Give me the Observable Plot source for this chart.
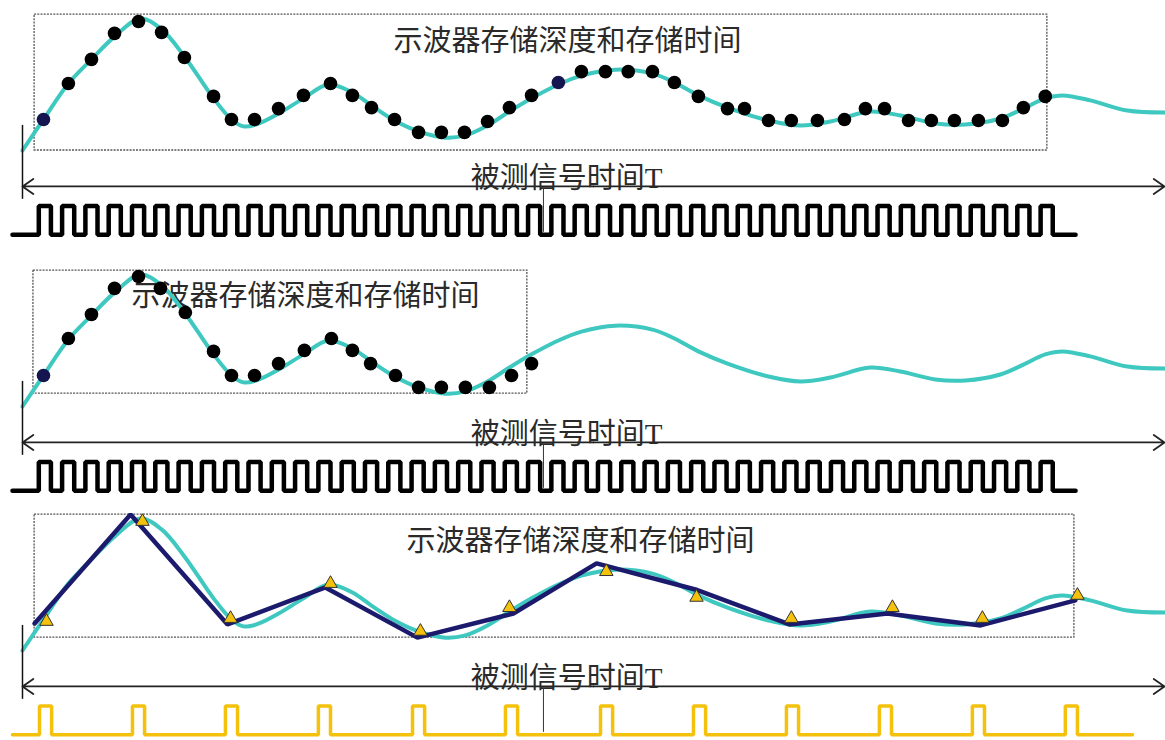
<!DOCTYPE html>
<html>
<head>
<meta charset="utf-8">
<script src="https://cdn.jsdelivr.net/npm/d3@7"></script>
<script src="https://cdn.jsdelivr.net/npm/@observablehq/plot@0.6"></script>
<style>
  html, body { margin: 0; padding: 0; background: #fff; }
  #chart { width: 1165px; }
  #chart svg { display: block; }
</style>
</head>
<body>
<div id="chart"></div>
<script>
// Time is measured in sample-clock periods (t), amplitude in volts-like units (v).

// Measured signal, [t, v]
const waveform = [
  [0, 0], [0.90, 0.94], [1.97, 2.03], [2.96, 2.76], [3.95, 3.45], [5.06, 4.0],
  [5.97, 3.67], [6.95, 2.85], [8.20, 1.58], [8.97, 0.94], [9.48, 0.73], [10.04, 0.79],
  [10.99, 1.12], [12.06, 1.58], [13.13, 2.0], [14.16, 1.76], [14.98, 1.36], [15.97, 0.91],
  [17.0, 0.58], [18.15, 0.39], [18.97, 0.45], [19.96, 0.76], [20.9, 1.18], [21.85, 1.58],
  [23.0, 2.0], [23.99, 2.27], [25.45, 2.45], [27.04, 2.33], [27.98, 2.06], [29.01, 1.67],
  [30.26, 1.30], [32.02, 0.91], [33.39, 0.76], [34.68, 0.88], [36.39, 1.18], [37.68, 1.06],
  [39.18, 0.82], [40.47, 0.79], [41.97, 0.97], [42.96, 1.27], [43.9, 1.58], [44.64, 1.67],
  [45.84, 1.52], [47.42, 1.21], [49.06, 1.15]
];

// Stored samples: full memory depth (row 1)
const samplesDeep = [
  [0.90, 0.94], [1.97, 2.03], [2.96, 2.76], [3.95, 3.55], [4.98, 3.91], [5.97, 3.58],
  [6.95, 2.82], [8.20, 1.64], [8.97, 0.94], [9.96, 0.94], [10.99, 1.27], [12.06, 1.67],
  [13.22, 2.03], [14.16, 1.67], [14.98, 1.30], [15.97, 0.94], [17.0, 0.55], [17.98, 0.55],
  [18.97, 0.55], [19.96, 0.88], [20.90, 1.30], [21.85, 1.67], [23.0, 2.06], [23.99, 2.39],
  [25.02, 2.39], [26.0, 2.39], [27.04, 2.39], [27.98, 2.06], [29.01, 1.64], [30.26, 1.27],
  [30.99, 1.27], [32.02, 0.91], [33.0, 0.91], [34.12, 0.91], [35.28, 0.94], [36.18, 1.27],
  [37.0, 1.27], [38.03, 0.91], [39.01, 0.91], [40.0, 0.91], [41.03, 0.91], [42.06, 0.91],
  [42.96, 1.30], [43.9, 1.64]
];
const samplesDeepMarked = [0, 22];

// Stored samples: half memory depth (row 2)
const samplesShallow = [
  [0.90, 0.94], [1.97, 2.06], [2.96, 2.79], [3.95, 3.58], [4.98, 3.94], [5.92, 3.58],
  [6.99, 2.85], [8.20, 1.67], [8.97, 0.94], [9.96, 0.94], [10.99, 1.30], [12.10, 1.70],
  [13.26, 2.06], [14.16, 1.70], [14.94, 1.30], [16.01, 0.94], [17.0, 0.58], [17.98, 0.58],
  [19.01, 0.58], [20.04, 0.58], [20.99, 0.94], [21.85, 1.30]
];
const samplesShallowMarked = [0];

// Low sample-rate capture (row 3): acquired points and the reconstructed trace
const samplesSparse = [
  [1.03, 0.88], [5.15, 3.91], [8.93, 0.97], [13.22, 2.03], [17.08, 0.58], [20.90, 1.30],
  [25.06, 2.39], [28.93, 1.61], [33.0, 0.97], [37.34, 1.30], [41.2, 0.97], [45.28, 1.67]
];
const reconstruction = [
  [0.52, 0.82], [4.64, 4.12], [8.80, 0.79], [13.0, 1.91], [16.95, 0.39], [21.07, 1.12],
  [24.64, 2.64], [28.88, 1.85], [32.92, 0.79], [37.12, 1.12], [41.12, 0.76], [45.19, 1.52]
];

// Sample clocks: rising-edge times, pulse width, start and end of the trace
const fastClockRise = [
  0.7, 1.7, 2.7, 3.7, 4.7, 5.7, 6.7, 7.7, 8.7, 9.7, 10.7, 11.7, 12.7, 13.7, 14.7,
  15.7, 16.7, 17.7, 18.7, 19.7, 20.7, 21.7, 22.7, 23.7, 24.7, 25.7, 26.7, 27.7, 28.7,
  29.7, 30.7, 31.7, 32.7, 33.7, 34.7, 35.7, 36.7, 37.7, 38.7, 39.7, 40.7, 41.7, 42.7, 43.7
];
const fastClock = {rise: fastClockRise, width: 0.52, start: -0.43, end: 45.2};
const slowClockRise = [0.73, 4.72, 8.71, 12.7, 16.74, 20.73, 24.81, 28.8, 32.79, 36.78, 40.77, 44.76];
const slowClock = {rise: slowClockRise, width: 0.52, start: -0.43, end: 47.64};
const clockHigh = -1.68, clockLow = -2.55;

// Time span of the measured signal
const spanStart = 0, spanEnd = 49.02, spanLevel = -1.09;

// Labels
const titleText = "示波器存储深度和存储时间";
const spanText = "被测信号时间T";

const CYAN = "#3ec8c0", NAVY = "#1c1a6c", GOLD = "#f4c20d";
const FONT = "'Liberation Serif', 'Noto Sans CJK SC', sans-serif";

function clockPath(c) {
  const pts = [[c.start, clockLow]];
  for (const r of c.rise) { pts.push([r, clockHigh]); pts.push([r + c.width, clockLow]); }
  pts.push([c.end, clockLow]);
  return pts;
}

function panel(cfg) {
  const {height, win, titleAt} = cfg;
  const mid = (spanStart + spanEnd) / 2;
  const marks = [
    // storage window
    Plot.rect([win], {x1: d => d[0], x2: d => d[1], y1: d => d[2], y2: d => d[3],
      fill: "none", stroke: "#555", strokeWidth: 1.3, strokeDasharray: "2,1.2"}),
    Plot.text([titleText], {x: titleAt[0], y: titleAt[1], text: d => d, fontSize: 29,
      fontFamily: FONT, fill: "#2a2a2a", ariaLabel: "window-title"}),
    Plot.line(waveform, {x: d => d[0], y: d => d[1], curve: "catmull-rom",
      stroke: CYAN, strokeWidth: 4})
  ];
  if (cfg.samples) {
    const marked = new Set(cfg.marked);
    marks.push(Plot.dot(cfg.samples, {x: d => d[0], y: d => d[1], r: 6.8,
      fill: (d, i) => marked.has(i) ? "#15154f" : "#000"}));
  }
  if (cfg.reconstruction) {
    marks.push(Plot.line(cfg.reconstruction, {x: d => d[0], y: d => d[1],
      stroke: NAVY, strokeWidth: 4.5, strokeLinejoin: "miter"}));
    marks.push(Plot.dot(cfg.sparse, {x: d => d[0], y: d => d[1], symbol: "triangle", r: 5,
      fill: GOLD, stroke: "#333", strokeWidth: 1}));
  }
  // time span: start line, double-headed arrow, label
  marks.push(
    Plot.ruleX([spanStart], {y1: 0.76, y2: -1.48, stroke: "#111", strokeWidth: 1.5}),
    Plot.arrow([[mid, spanStart], [mid, spanEnd]], {x1: d => d[0], x2: d => d[1],
      y1: spanLevel, y2: spanLevel, stroke: "#222", strokeWidth: 1.8,
      headLength: 11, headAngle: 70}),
    Plot.text([spanText], {x: 23.35, y: -0.85, text: d => d, fontSize: 29,
      fontFamily: FONT, fill: "#2a2a2a"}),
    Plot.ruleX([22.36], {y1: -1.15, y2: -2.48, stroke: "#333", strokeWidth: 1})
  );
  // sample clock
  marks.push(Plot.line(clockPath(cfg.clock), {x: d => d[0], y: d => d[1], curve: "step-after",
    stroke: cfg.clockColor, strokeWidth: cfg.clockWidth, strokeLinejoin: "miter"}));

  const svg = Plot.plot({
    width: 1165, height,
    margin: 0,
    x: {domain: [-0.944, 49.06], axis: null},
    y: {domain: [(150 - height) / 33, 150 / 33], axis: null},
    style: {background: "#fff", overflow: "visible"},
    marks
  });
  const t = svg.querySelector('g[aria-label="window-title"]');
  if (t) t.setAttribute("letter-spacing", "2");
  return svg;
}

const chart = document.getElementById("chart");
chart.append(
  panel({height: 256, win: [0.52, 43.99, 0.0, 4.12], titleAt: [23.39, 3.30],
    samples: samplesDeep, marked: samplesDeepMarked, clock: fastClock, clockColor: "#000", clockWidth: 4.5}),
  panel({height: 244, win: [0.47, 21.67, 0.39, 4.12], titleAt: [12.15, 3.33],
    samples: samplesShallow, marked: samplesShallowMarked, clock: fastClock, clockColor: "#000", clockWidth: 4.5}),
  panel({height: 240, win: [0.52, 45.15, 0.39, 4.12], titleAt: [23.95, 3.30],
    reconstruction, sparse: samplesSparse, clock: slowClock, clockColor: GOLD, clockWidth: 3.5})
);
</script>
</body>
</html>
